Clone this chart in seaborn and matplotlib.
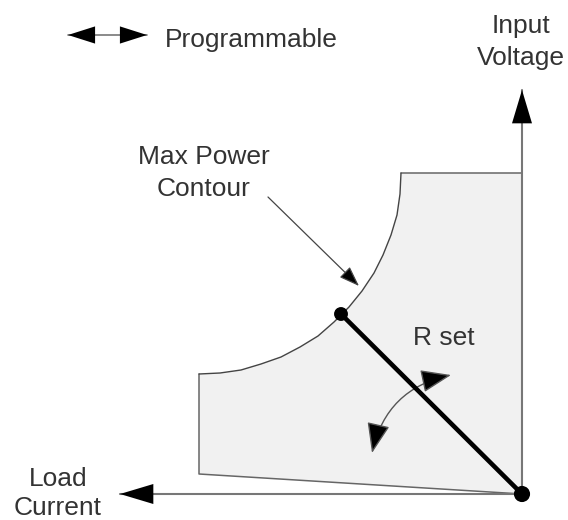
import matplotlib
matplotlib.use("Agg")
import matplotlib.pyplot as plt
import seaborn as sns

# diagram units (1 unit = 1 px): load current grows to the left, input voltage upward
contour_current = [121, 122, 125, 131, 139, 148, 160, 173, 188, 204, 222, 241, 261, 281, 302, 323]
contour_voltage = [321, 300, 279, 259, 239, 221, 203, 187, 172, 158, 147, 137, 130, 124, 121, 120]

# remaining limits of the operating area: min current edge, min voltage edge, max voltage
limit_current = [323, 323, 0, 0, 121]
limit_voltage = [120, 20, 0, 321, 321]

origin = (0, 0)
set_point = (181, 180)
voltage_tip = (0, 404)
current_tip = (402, 0)

# annotation arrows
prog_arrow = [(454, 459), (375, 459)]
contour_arrow = [(254, 297), (163, 208)]
rset_arrow = [(71, 119), (150, 41)]

labels = ["Programmable", "Input", "Voltage", "Max Power", "Contour", "R set", "Load", "Current"]
label_x = [357, 1, 1, 318, 318, 109, 464, 464]
label_y = [447, 461, 429, 330, 298, 149, 8, -21]
label_ha = ["left", "center", "center", "center", "center", "left", "center", "center"]

sns.set_style("white")
plt.rcParams["font.family"] = ["Liberation Sans", "DejaVu Sans"]

fig = plt.figure(figsize=(5.68, 5.2), dpi=100)
ax = fig.add_axes([0, 0, 1, 1])
ax.set_xlim(522, -46)
ax.set_ylim(-26, 494)
ax.axis("off")

# operating area
ax.fill(limit_current + contour_current, limit_voltage + contour_voltage,
        color="#f1f1f1", lw=0, zorder=1)
ax.plot(limit_current, limit_voltage, color="#666666", lw=1.1, zorder=2)
sns.lineplot(x=contour_current, y=contour_voltage, sort=False, estimator=None,
             color="#444444", lw=1.0, ax=ax, zorder=2)

# axes with arrow heads
for tip in (voltage_tip, current_tip):
    ax.plot([origin[0], tip[0]], [origin[1], tip[1]], color="#777777", lw=1.5, zorder=3)
    ax.annotate("", xy=tip, xytext=origin,
                arrowprops=dict(arrowstyle="-|>,head_length=2.4,head_width=0.72",
                                mutation_scale=10, fc="black", ec="black", lw=0,
                                shrinkA=0, shrinkB=0), zorder=4)

# programmable resistance line
sns.lineplot(x=[set_point[0], origin[0]], y=[set_point[1], origin[1]], sort=False,
             estimator=None, color="black", lw=3.3, ax=ax, zorder=5)
sns.scatterplot(x=[origin[0]], y=[origin[1]], s=135, color="black", edgecolor="none",
                ax=ax, zorder=6)
sns.scatterplot(x=[set_point[0]], y=[set_point[1]], s=100, color="black", edgecolor="none",
                ax=ax, zorder=6)

# legend arrow
ax.plot([p[0] for p in prog_arrow], [p[1] for p in prog_arrow], color="#777777", lw=1.2)
ax.annotate("", xy=prog_arrow[1], xytext=prog_arrow[0],
            arrowprops=dict(arrowstyle="<|-|>,head_length=1.95,head_width=0.62",
                            mutation_scale=10, fc="black", ec="black", lw=0,
                            shrinkA=0, shrinkB=0))

# max power pointer
ax.annotate("", xy=contour_arrow[1], xytext=contour_arrow[0],
            arrowprops=dict(arrowstyle="-|>,head_length=1.25,head_width=0.45",
                            mutation_scale=10, fc="black", ec="#444444", lw=0.9,
                            shrinkA=0, shrinkB=0))

# R set curved arrow
ax.annotate("", xy=rset_arrow[1], xytext=rset_arrow[0],
            arrowprops=dict(arrowstyle="<|-|>,head_length=1.9,head_width=0.72",
                            mutation_scale=10, fc="black", ec="#555555", lw=1.0,
                            connectionstyle="arc3,rad=0.32", shrinkA=0, shrinkB=0),
            zorder=4)

for text, x, y, ha in zip(labels, label_x, label_y, label_ha):
    ax.text(x, y, text, ha=ha, va="baseline", fontsize=19, color="#333333")

fig.savefig("out.png", dpi=100)
